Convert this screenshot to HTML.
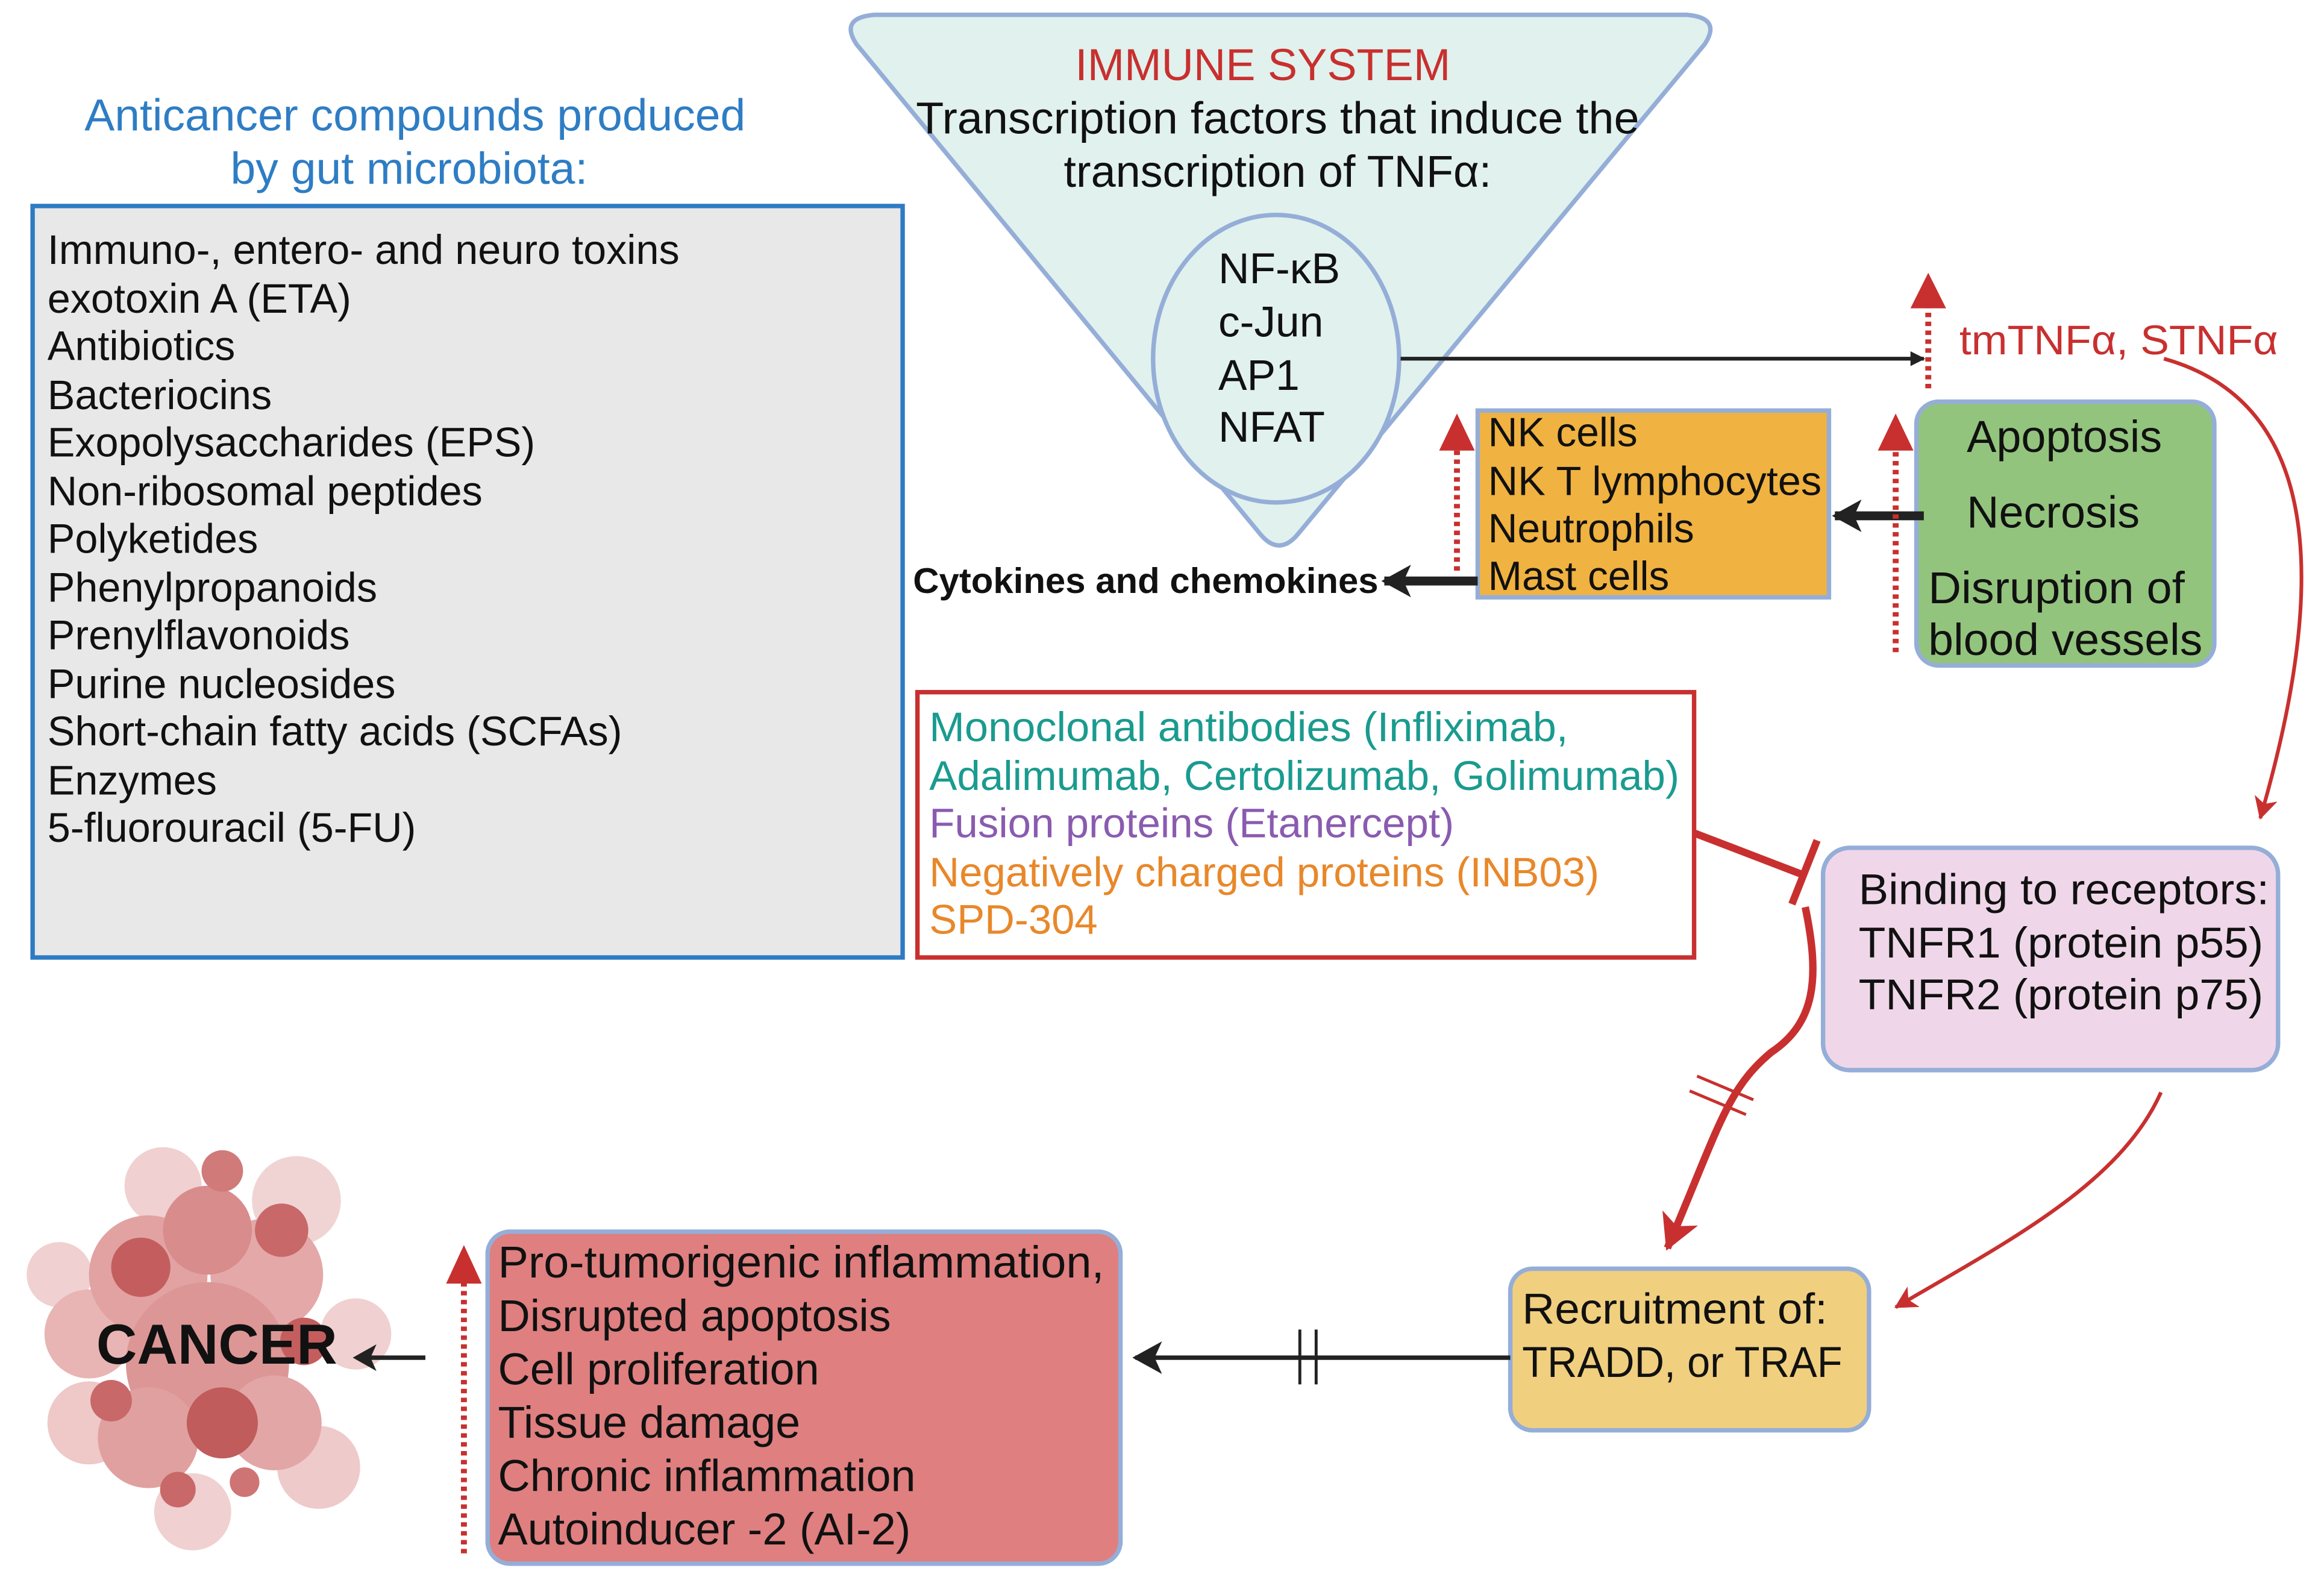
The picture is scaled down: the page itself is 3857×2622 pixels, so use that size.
<!DOCTYPE html>
<html><head><meta charset="utf-8"><style>
html,body{margin:0;padding:0;background:#fff;}
svg{display:block;}
text{font-family:"Liberation Sans",sans-serif;}
</style></head><body>
<svg width="3857" height="2622" viewBox="0 0 1568 1066" preserveAspectRatio="none" xmlns="http://www.w3.org/2000/svg">
<defs>
<marker id="ab" markerWidth="10" markerHeight="10" refX="9" refY="5" orient="auto" markerUnits="userSpaceOnUse"><path d="M0,0 L10,5 L0,10 Z" fill="#222"/></marker>
<marker id="abt" markerWidth="22" markerHeight="22" refX="18" refY="11" orient="auto" markerUnits="userSpaceOnUse"><path d="M0,0 L20,11 L0,22 L5,11 Z" fill="#222"/></marker>
<marker id="ar" markerWidth="16" markerHeight="16" refX="14" refY="8" orient="auto" markerUnits="userSpaceOnUse"><path d="M0,0 L15,8 L0,16 L4,8 Z" fill="#c8302f"/></marker>
<marker id="ar2" markerWidth="26" markerHeight="26" refX="22" refY="13" orient="auto" markerUnits="userSpaceOnUse"><path d="M0,0 L24,13 L0,26 L6,13 Z" fill="#c8302f"/></marker>
</defs>

<!-- Left title -->
<text x="280" y="88" text-anchor="middle" font-size="30" fill="#2e7dc4" textLength="446" lengthAdjust="spacingAndGlyphs">Anticancer compounds produced</text>
<text x="276" y="124" text-anchor="middle" font-size="30" fill="#2e7dc4" textLength="241" lengthAdjust="spacingAndGlyphs">by gut microbiota:</text>
<rect x="22" y="139" width="587" height="507" fill="#e8e8e8" stroke="#2e7bc4" stroke-width="3"/>
<g font-size="27.8" fill="#111">
<text x="32" y="178">Immuno-, entero- and neuro toxins</text>
<text x="32" y="211">exotoxin A (ETA)</text>
<text x="32" y="243">Antibiotics</text>
<text x="32" y="276">Bacteriocins</text>
<text x="32" y="308">Exopolysaccharides (EPS)</text>
<text x="32" y="341">Non-ribosomal peptides</text>
<text x="32" y="373">Polyketides</text>
<text x="32" y="406">Phenylpropanoids</text>
<text x="32" y="438">Prenylflavonoids</text>
<text x="32" y="471">Purine nucleosides</text>
<text x="32" y="503">Short-chain fatty acids (SCFAs)</text>
<text x="32" y="536">Enzymes</text>
<text x="32" y="568">5-fluorouracil (5-FU)</text>
</g>

<!-- Triangle -->
<path d="M590,10 L1138,10 Q1162,12 1150,30 L876,360 Q863,376 850,360 L578,30 Q566,12 590,10 Z" fill="#e1f1ed" stroke="#95aed8" stroke-width="3"/>
<text x="852" y="54" text-anchor="middle" font-size="30" fill="#c8302f">IMMUNE SYSTEM</text>
<text x="862" y="90" text-anchor="middle" font-size="30" fill="#111" textLength="488" lengthAdjust="spacingAndGlyphs">Transcription factors that induce the</text>
<text x="862" y="126" text-anchor="middle" font-size="30" fill="#111">transcription of TNFα:</text>
<ellipse cx="861" cy="242" rx="83" ry="97" fill="#e1f1ed" stroke="#95aed8" stroke-width="3"/>
<g font-size="29" fill="#111">
<text x="822" y="191">NF-κB</text>
<text x="822" y="227">c-Jun</text>
<text x="822" y="263">AP1</text>
<text x="822" y="298">NFAT</text>
</g>
<line x1="945" y1="242" x2="1298" y2="242" stroke="#222" stroke-width="2.5" marker-end="url(#ab)"/>

<!-- tmTNF -->
<line x1="1301" y1="262" x2="1301" y2="205" stroke="#c8302f" stroke-width="4" stroke-dasharray="3,3"/>
<path d="M1289,208 L1301,184 L1313,208 Z" fill="#c8302f"/>
<text x="1322" y="239" font-size="28" fill="#c8302f" textLength="215" lengthAdjust="spacingAndGlyphs">tmTNFα, STNFα</text>
<path d="M1460,242 C1560,270 1575,380 1525,552" fill="none" stroke="#c8302f" stroke-width="2.5" marker-end="url(#ar)"/>

<!-- Orange box -->
<rect x="997" y="277" width="237" height="126" fill="#f0b240" stroke="#95aed8" stroke-width="3"/>
<g font-size="27.5" fill="#111">
<text x="1004" y="301">NK cells</text>
<text x="1004" y="334" textLength="225" lengthAdjust="spacingAndGlyphs">NK T lymphocytes</text>
<text x="1004" y="366">Neutrophils</text>
<text x="1004" y="398">Mast cells</text>
</g>
<line x1="983" y1="385" x2="983" y2="302" stroke="#c8302f" stroke-width="4" stroke-dasharray="3,3"/>
<path d="M971,304 L983,279 L995,304 Z" fill="#c8302f"/>
<line x1="997" y1="392" x2="934" y2="392" stroke="#222" stroke-width="6" marker-end="url(#abt)"/>
<text x="616" y="400" font-size="24" font-weight="bold" fill="#111" textLength="314" lengthAdjust="spacingAndGlyphs">Cytokines and chemokines</text>

<!-- Green -->
<rect x="1293" y="271" width="201" height="178" rx="15" fill="#93c47d" stroke="#95aed8" stroke-width="3"/>
<g font-size="30" fill="#111">
<text x="1327" y="305">Apoptosis</text>
<text x="1327" y="356">Necrosis</text>
<text x="1301" y="407" textLength="173" lengthAdjust="spacingAndGlyphs">Disruption of</text>
<text x="1301" y="442" textLength="185" lengthAdjust="spacingAndGlyphs">blood vessels</text>
</g>
<line x1="1298" y1="348" x2="1238" y2="348" stroke="#222" stroke-width="6" marker-end="url(#abt)"/>
<line x1="1279" y1="440" x2="1279" y2="302" stroke="#c8302f" stroke-width="4" stroke-dasharray="3,3"/>
<path d="M1267,304 L1279,279 L1291,304 Z" fill="#c8302f"/>

<!-- Red drugs box -->
<rect x="619" y="467" width="524" height="179" fill="#fff" stroke="#c8302f" stroke-width="3"/>
<g font-size="28">
<text x="627" y="500" fill="#1a9b8f" textLength="431" lengthAdjust="spacingAndGlyphs">Monoclonal antibodies (Infliximab,</text>
<text x="627" y="533" fill="#1a9b8f" textLength="506" lengthAdjust="spacingAndGlyphs">Adalimumab, Certolizumab, Golimumab)</text>
<text x="627" y="565" fill="#8a5bb0" textLength="354" lengthAdjust="spacingAndGlyphs">Fusion proteins (Etanercept)</text>
<text x="627" y="598" fill="#e8882a" textLength="452" lengthAdjust="spacingAndGlyphs">Negatively charged proteins (INB03)</text>
<text x="627" y="630" fill="#e8882a">SPD-304</text>
</g>
<line x1="1143" y1="562" x2="1216" y2="590" stroke="#c8302f" stroke-width="5"/>
<line x1="1209" y1="610" x2="1226" y2="567" stroke="#c8302f" stroke-width="5"/>

<!-- Pink -->
<rect x="1230" y="572" width="307" height="150" rx="18" fill="#efd7e9" stroke="#95aed8" stroke-width="3"/>
<g font-size="29" fill="#111">
<text x="1254" y="610" textLength="277" lengthAdjust="spacingAndGlyphs">Binding to receptors:</text>
<text x="1254" y="646" textLength="273" lengthAdjust="spacingAndGlyphs">TNFR1 (protein p55)</text>
<text x="1254" y="681" textLength="273" lengthAdjust="spacingAndGlyphs">TNFR2 (protein p75)</text>
</g>
<path d="M1218,612 C1228,660 1225,690 1195,710 C1165,735 1160,760 1125,842" fill="none" stroke="#c8302f" stroke-width="5" marker-end="url(#ar2)"/>
<line x1="1140" y1="736" x2="1178" y2="752" stroke="#c8302f" stroke-width="2"/>
<line x1="1145" y1="726" x2="1183" y2="742" stroke="#c8302f" stroke-width="2"/>
<path d="M1458,737 C1430,800 1350,840 1279,882" fill="none" stroke="#c8302f" stroke-width="2.5" marker-end="url(#ar)"/>

<!-- Yellow -->
<rect x="1019" y="856" width="242" height="109" rx="15" fill="#f0cf7f" stroke="#95aed8" stroke-width="3"/>
<text x="1027" y="893" font-size="29" fill="#111" textLength="206" lengthAdjust="spacingAndGlyphs">Recruitment of:</text>
<text x="1027" y="929" font-size="29" fill="#111" textLength="216" lengthAdjust="spacingAndGlyphs">TRADD, or TRAF</text>
<line x1="1019" y1="916" x2="766" y2="916" stroke="#222" stroke-width="3" marker-end="url(#abt)"/>
<line x1="877" y1="897" x2="877" y2="934" stroke="#222" stroke-width="2"/>
<line x1="888" y1="897" x2="888" y2="934" stroke="#222" stroke-width="2"/>

<!-- Red result box -->
<rect x="329" y="831" width="427" height="224" rx="15" fill="#df7f7f" stroke="#95aed8" stroke-width="3"/>
<g font-size="30" fill="#111">
<text x="336" y="862" textLength="409" lengthAdjust="spacingAndGlyphs">Pro-tumorigenic inflammation,</text>
<text x="336" y="898">Disrupted apoptosis</text>
<text x="336" y="934">Cell proliferation</text>
<text x="336" y="970">Tissue damage</text>
<text x="336" y="1006">Chronic inflammation</text>
<text x="336" y="1042">Autoinducer -2 (AI-2)</text>
</g>
<line x1="313" y1="1048" x2="313" y2="864" stroke="#c8302f" stroke-width="4" stroke-dasharray="3,3"/>
<path d="M301,866 L313,840 L325,866 Z" fill="#c8302f"/>

<!-- Cancer blob -->
<g>
<circle cx="40" cy="860" r="22" fill="#f0d0d0"/>
<circle cx="60" cy="960" r="28" fill="#efc8c8"/>
<circle cx="110" cy="800" r="26" fill="#f0d0d0"/>
<circle cx="200" cy="810" r="30" fill="#f0d4d4"/>
<circle cx="240" cy="900" r="24" fill="#f0d0d0"/>
<circle cx="215" cy="990" r="28" fill="#efcaca"/>
<circle cx="130" cy="1020" r="26" fill="#f0d0d0"/>
<circle cx="60" cy="900" r="30" fill="#e8b4b4"/>
<circle cx="100" cy="860" r="40" fill="#e2a2a2"/>
<circle cx="180" cy="860" r="38" fill="#e4a8a8"/>
<circle cx="140" cy="920" r="55" fill="#dc9696"/>
<circle cx="100" cy="970" r="34" fill="#e0a0a0"/>
<circle cx="185" cy="960" r="32" fill="#e2a6a6"/>
<circle cx="140" cy="830" r="30" fill="#d88c8c"/>
<circle cx="95" cy="855" r="20" fill="#c45e5e"/>
<circle cx="150" cy="790" r="14" fill="#d07a7a"/>
<circle cx="190" cy="830" r="18" fill="#c86868"/>
<circle cx="150" cy="960" r="24" fill="#c05c5c"/>
<circle cx="75" cy="945" r="14" fill="#c86868"/>
<circle cx="205" cy="905" r="16" fill="#c45e5e"/>
<circle cx="120" cy="1005" r="12" fill="#c86868"/>
<circle cx="165" cy="1000" r="10" fill="#cf7474"/>
</g>
<text x="65" y="920" font-size="38" font-weight="bold" fill="#111">CANCER</text>
<line x1="287" y1="916" x2="250" y2="916" stroke="#222" stroke-width="3"/>
<path d="M238,916 L254,907 L250,916 L254,925 Z" fill="#222"/>
</svg>
</body></html>
